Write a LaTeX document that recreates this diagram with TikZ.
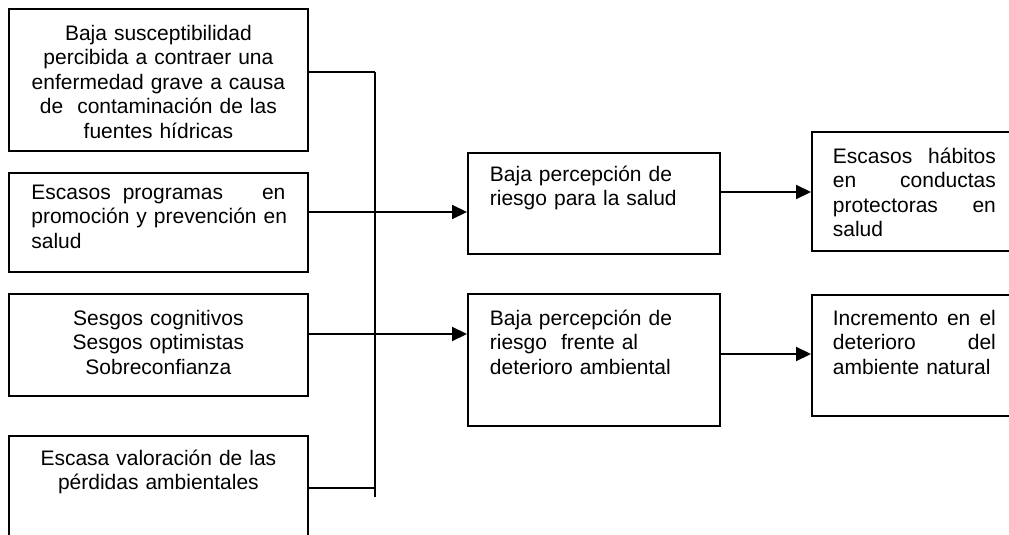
\documentclass[tikz,border=0pt]{standalone}
\usepackage{fontspec}
\setmainfont{Liberation Sans}
\usepackage{tikz}
\usetikzlibrary{arrows.meta,positioning}

\newcommand{\lineaj}[1]{\leavevmode\hbox to \hsize{#1}}

\begin{document}
\begin{tikzpicture}[x=1pt, y=-1pt,
		caja/.style={draw, line width=1.8pt, anchor=north west, inner sep=0pt},
		texto/.style={inner sep=0pt, font=\fontsize{21pt}{24.5pt}\selectfont, execute at begin node=\strut},
		linea/.style={line width=1.3pt},
		flecha/.style={line width=2.1pt, -{Triangle[length=15pt,width=14pt]}}]
	\useasboundingbox (0,0) rectangle (1009,535);
	% Causas
	\node[caja, minimum width=299pt, minimum height=142pt] (c1) at (8,8) {};
	\node[caja, minimum width=299pt, minimum height=99pt] (c2) at (8,172) {};
	\node[caja, minimum width=299pt, minimum height=102pt] (c3) at (8,293) {};
	\node[caja, minimum width=299pt, minimum height=130pt] (c4) at (8,435) {};
	\node[texto, text width=254pt, align=center, below=15pt of c1.north] (t1) {Baja susceptibilidad\\ percibida a contraer una\\ enfermedad grave a causa\\ de\ \ contaminación de las\\ fuentes hídricas};
	\node[texto, text width=254pt, align=left, below=10pt of c2.north] (t2) {\lineaj{Escasos\hspace{12pt}programas\hfill en}\\ \lineaj{promoción y prevención en}\\ salud};
	\node[texto, text width=254pt, align=center, below=15pt of c3.north] (t3) {Sesgos cognitivos\\ Sesgos optimistas\\ Sobreconfianza};
	\node[texto, text width=254pt, align=center, below=13pt of c4.north] (t4) {Escasa valoración de las\\ pérdidas ambientales};
	% Percepcion
	\node[caja, minimum width=252pt, minimum height=101pt] (p1) at (467,152) {};
	\node[caja, minimum width=252pt, minimum height=132pt] (p2) at (467,293) {};
	\node[texto, text width=208pt, align=left, below=12pt of p1.north] (tp1) {Baja percepción de\\ riesgo para la salud};
	\node[texto, text width=208pt, align=left, below=15pt of p2.north] (tp2) {Baja percepción de\\ riesgo\ \ frente al\\ deterioro ambiental};
	% Efectos
	\node[caja, minimum width=205pt, minimum height=119pt] (r1) at (811,131) {};
	\node[caja, minimum width=205pt, minimum height=121pt] (r2) at (811,294) {};
	\node[texto, text width=163pt, align=left, below=15pt of r1.north] (tr1) {\lineaj{Escasos\hfill hábitos}\\ \lineaj{en\hfill conductas}\\ \lineaj{protectoras\hfill en}\\ salud};
	\node[texto, text width=163pt, align=left, below=14pt of r2.north] (tr2) {\lineaj{Incremento\hfill en\hfill el}\\ \lineaj{deterioro\hfill del}\\ ambiente natural};
	% Conectores
	\coordinate (b1) at (375,72);
	\coordinate (b2) at (375,212);
	\coordinate (b3) at (375,334);
	\coordinate (b4) at (375,488);
	\coordinate (bfin) at (375,497);
	\coordinate (s1) at (719,192);
	\coordinate (s2) at (719,354);
	\draw[linea] (b1) -- (bfin);
	\foreach \c/\b in {c1/b1, c2/b2, c3/b3, c4/b4} {
		\draw[linea] (\c.east |- \b) -- (\b);
	}
	\draw[flecha] (b2) -- (b2 -| p1.west);
	\draw[flecha] (b3) -- (b3 -| p2.west);
	\draw[flecha] (p1.east |- s1) -- (s1 -| r1.west);
	\draw[flecha] (p2.east |- s2) -- (s2 -| r2.west);
\end{tikzpicture}
\end{document}
